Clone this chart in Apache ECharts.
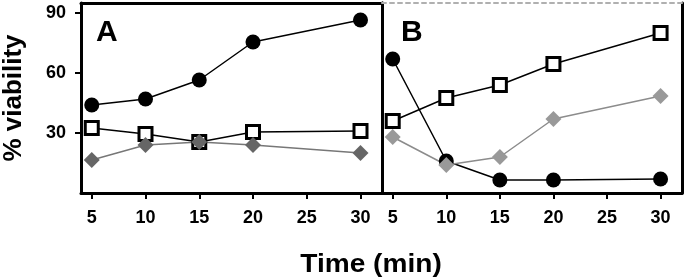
<!DOCTYPE html>
<html>
<head>
    <meta charset="utf-8"/>
    <script src="https://cdn.jsdelivr.net/npm/echarts@6/dist/echarts.min.js"></script>
</head>
<body style="margin:0;background:#fff">
<div id="main" style="width:685px;height:279px;"></div>
<script type="text/javascript">
    // time points (min) and tick values
    var times = [5, 10, 15, 20, 30];
    var xTicks = [5, 10, 15, 20, 25, 30];
    var yTicks = [30, 60, 90];

    // panel A
    var aCircle = [44, 47, 56.5, 75.5, 86.5];
    var aSquare = [32.5, 29.5, 25.5, 30.5, 31];
    var aDiamond = [16.5, 24, 25.5, 24, 20];

    // panel B
    var bCircle = [67, 16, 6.5, 6.5, 7];
    var bSquare = [36, 47.5, 54, 64.5, 80];
    var bDiamond = [28, 14, 18, 37, 48.5];

    var font = 'Liberation Sans, Arial, sans-serif';

    function pairs(vals) {
        return times.map(function (t, i) { return [t, vals[i]]; });
    }

    function bottomAxis(grid) {
        return {
            gridIndex: grid, type: 'value', position: 'bottom', min: 4, max: 32,
            axisLine: {onZero: false, lineStyle: {color: '#000', width: 3}},
            axisTick: {customValues: xTicks, length: 6, lineStyle: {color: '#000', width: 2}},
            axisLabel: {customValues: xTicks, color: '#000', fontWeight: 'bold', fontSize: 18, fontFamily: font, margin: 16},
            splitLine: {show: false}
        };
    }

    function plainAxis(grid, dim, pos, style) {
        var ax = {
            gridIndex: grid, type: 'value', position: pos,
            axisLine: {onZero: false, lineStyle: style},
            axisTick: {show: false}, axisLabel: {show: false}, splitLine: {show: false}
        };
        if (dim === 'x') { ax.min = 4; ax.max = 32; } else { ax.min = 0; ax.max = 95; }
        return ax;
    }

    var solid = {color: '#000', width: 3};

    function lineSeries(xi, yi, vals, kind) {
        var s = {
            type: 'line', xAxisIndex: xi, yAxisIndex: yi, data: pairs(vals),
            symbolSize: 15, lineStyle: {color: '#000', width: 1.5}
        };
        if (kind === 'circle') {
            s.symbol = 'circle';
            s.itemStyle = {color: '#000'};
        } else if (kind === 'square') {
            s.symbol = 'rect';
            s.symbolSize = 13;
            s.itemStyle = {color: '#fff', borderColor: '#000', borderWidth: 3};
        } else {
            s.symbol = 'diamond';
            s.symbolSize = 16;
            s.itemStyle = {color: kind};
            s.lineStyle = {color: kind === '#666' ? '#777' : '#8c8c8c', width: 1.5};
        }
        return s;
    }

    var myChart = echarts.init(document.getElementById('main'));
    var option = {
        animation: false,
        title: [
            {text: 'A', left: 91, top: 13, textStyle: {fontSize: 30, fontWeight: 'bold', fontFamily: font, color: '#000'}},
            {text: 'B', left: 396, top: 13, textStyle: {fontSize: 30, fontWeight: 'bold', fontFamily: font, color: '#000'}}
        ],
        graphic: [{
            type: 'text', x: 371, y: 265, scaleX: 1.08,
            style: {text: 'Time (min)', textAlign: 'center', textVerticalAlign: 'middle',
                font: 'bold 26px Liberation Sans, Arial, sans-serif', fill: '#000'}
        }],
        grid: [
            {left: 81, top: 3, width: 301, height: 190},
            {left: 382, top: 3, width: 300, height: 190}
        ],
        xAxis: [
            bottomAxis(0),
            plainAxis(0, 'x', 'top', solid),
            bottomAxis(1),
            plainAxis(1, 'x', 'top', {color: '#b0b0b0', width: 2, type: [4, 4]})
        ],
        yAxis: [
            {
                gridIndex: 0, type: 'value', position: 'left', min: 0, max: 95,
                name: '% viability', nameLocation: 'middle', nameGap: 54, nameRotate: 90,
                nameTextStyle: {fontSize: 26, fontWeight: 'bold', fontFamily: font, color: '#000'},
                axisLine: {onZero: false, lineStyle: solid},
                axisTick: {customValues: yTicks, length: 6, lineStyle: {color: '#000', width: 2}},
                axisLabel: {customValues: yTicks, color: '#000', fontWeight: 'bold', fontSize: 18, fontFamily: font, margin: 15},
                splitLine: {show: false}
            },
            plainAxis(0, 'y', 'right', solid),
            plainAxis(1, 'y', 'left', solid),
            plainAxis(1, 'y', 'right', solid)
        ],
        series: [
            lineSeries(0, 0, aCircle, 'circle'),
            lineSeries(0, 0, aSquare, 'square'),
            lineSeries(0, 0, aDiamond, '#666'),
            lineSeries(2, 2, bCircle, 'circle'),
            lineSeries(2, 2, bSquare, 'square'),
            lineSeries(2, 2, bDiamond, '#999')
        ]
    };
    myChart.setOption(option);
</script>
</body>
</html>
